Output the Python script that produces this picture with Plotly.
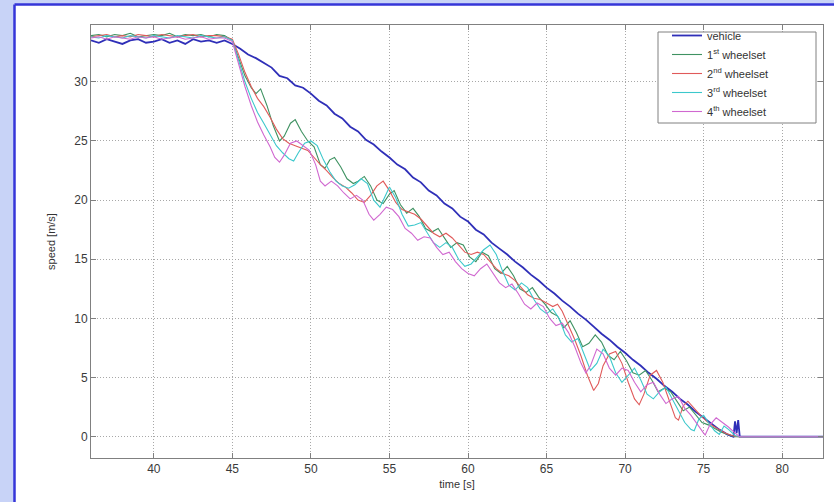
import plotly.graph_objects as go

# ---------------- data ----------------
t_vehicle = [36.0, 36.5, 37.0, 37.5, 38.0, 38.5, 39.0, 39.5, 40.0, 40.5, 41.0, 41.5, 42.0, 42.5, 43.0, 43.5, 44.0, 44.5,
             45.0, 45.5, 46.0, 46.5, 47.0, 47.5, 48.0, 48.5, 49.0, 49.5,
             50.0, 50.5, 51.0, 51.5, 52.0, 52.5, 53.0, 53.5, 54.0, 54.5,
             55.0, 55.5, 56.0, 56.5, 57.0, 57.5, 58.0, 58.5, 59.0, 59.5,
             60.0, 60.5, 61.0, 61.5, 62.0, 62.5, 63.0, 63.5, 64.0, 64.5,
             65.0, 65.5, 66.0, 66.5, 67.0, 67.5, 68.0, 68.5, 69.0, 69.5,
             70.0, 70.5, 71.0, 71.5, 72.0, 72.5, 73.0, 73.5, 74.0, 74.5,
             75.0, 75.5, 76.0, 76.5, 76.9, 77.0, 77.1, 77.2, 77.3, 78.0, 80.0, 82.6]
v_vehicle = [33.5, 33.3, 33.6, 33.4, 33.2, 33.5, 33.6, 33.3, 33.4, 33.6, 33.3, 33.5, 33.2, 33.6, 33.4, 33.5, 33.3, 33.5,
             33.2, 32.8, 32.3, 32.0, 31.6, 31.2, 30.5, 30.3, 29.7, 29.5,
             29.0, 28.4, 28.0, 27.3, 26.9, 26.2, 25.8, 25.1, 24.7, 24.1,
             23.6, 23.0, 22.6, 21.9, 21.5, 20.8, 20.4, 19.7, 19.3, 18.6,
             18.2, 17.5, 17.1, 16.4, 15.9, 15.4, 14.8, 14.3, 13.7, 13.2,
             12.6, 12.1, 11.5, 11.0, 10.4, 9.9, 9.3, 8.7, 8.2, 7.6,
             7.1, 6.5, 6.0, 5.4, 4.9, 4.3, 3.8, 3.2, 2.7, 2.1,
             1.6, 1.1, 0.6, 0.2, 0.0, 1.3, 0.3, 1.4, 0.0, 0.0, 0.0, 0.0]

t_plateau = [36.0, 36.5, 37.0, 37.5, 38.0, 38.5, 39.0, 39.5, 40.0, 40.5, 41.0, 41.5, 42.0, 42.5, 43.0, 43.5, 44.0, 44.5]

t_ws1 = t_plateau + [45.0, 45.4, 45.8, 46.2, 46.5, 46.8, 47.2, 47.6, 48.0, 48.3, 48.7, 49.0, 49.4, 49.8,
                     50.2, 50.6, 50.9, 51.2, 51.5, 51.9, 52.3, 52.7, 53.0, 53.4, 53.8, 54.2, 54.6, 55.0,
                     55.3, 55.7, 56.1, 56.5, 56.9, 57.3, 57.7, 58.1, 58.5, 58.9, 59.3, 59.7, 60.1, 60.5,
                     60.9, 61.3, 61.7, 62.1, 62.5, 62.9, 63.3, 63.7, 64.1, 64.5, 64.9, 65.3, 65.7, 66.1,
                     66.5, 66.9, 67.3, 67.7, 68.1, 68.5, 68.9, 69.3, 69.7, 70.1, 70.5, 70.9, 71.3, 71.7,
                     72.1, 72.5, 72.9, 73.3, 73.7, 74.1, 74.5, 74.9, 75.3, 75.7, 76.1, 76.5, 77.0, 80.0, 82.6]
v_ws1 = [33.9, 34.0, 33.8, 34.0, 33.9, 34.1, 33.8, 33.9, 34.0, 33.9, 34.1, 33.8, 34.0, 33.9, 34.0, 33.8, 34.0, 33.9] + \
        [33.5, 32.0, 30.5, 29.5, 29.0, 29.4, 28.0, 26.3, 25.0, 25.4, 26.5, 26.8, 25.8, 25.0,
         24.5, 23.0, 22.7, 23.4, 23.6, 22.8, 21.8, 21.4, 21.6, 22.0, 21.2, 20.0, 19.7, 20.5,
         20.8, 19.6, 18.9, 19.3, 18.6, 17.6, 17.3, 17.6, 16.8, 16.0, 16.4, 16.2, 15.2, 14.8,
         15.6, 15.3, 14.2, 13.8, 14.4, 13.6, 12.5, 12.2, 12.6, 11.8, 11.2, 10.5, 10.2, 9.2,
         9.8, 8.8, 7.6, 7.9, 8.6, 8.0, 6.9, 6.5, 7.2, 6.4, 5.4, 5.2, 5.6, 4.8,
         3.8, 4.1, 3.8, 3.0, 2.2, 2.5, 1.8, 1.2, 1.0, 0.7, 0.4, 0.2, 0.0, 0.0, 0.0]

t_ws2 = t_plateau + [45.0, 45.4, 45.8, 46.2, 46.6, 47.0, 47.4, 47.8, 48.2, 48.6, 49.0, 49.4, 49.8,
                     50.2, 50.6, 51.0, 51.4, 51.8, 52.2, 52.6, 53.0, 53.4, 53.8, 54.2, 54.6, 55.0,
                     55.4, 55.8, 56.2, 56.6, 57.0, 57.4, 57.8, 58.2, 58.6, 59.0, 59.4, 59.8, 60.2,
                     60.6, 61.0, 61.4, 61.8, 62.2, 62.6, 63.0, 63.4, 63.8, 64.2, 64.6, 65.0, 65.4,
                     65.7, 66.0, 66.4, 66.8, 67.2, 67.6, 68.0, 68.3, 68.6, 69.0, 69.4, 69.8, 70.2,
                     70.6, 70.9, 71.2, 71.6, 72.0, 72.4, 72.8, 73.2, 73.4, 73.7, 74.0, 74.4, 74.8,
                     75.2, 75.6, 76.0, 76.4, 76.8, 77.2, 80.0, 82.6]
v_ws2 = [33.8, 33.9, 34.0, 33.8, 33.9, 33.8, 34.0, 33.9, 33.8, 34.0, 33.9, 33.8, 33.9, 34.0, 33.8, 33.9, 33.9, 33.8] + \
        [33.6, 32.3, 30.8, 29.6, 28.6, 27.9, 27.0, 26.0, 25.2, 24.8, 24.6, 24.4, 24.2,
         23.6, 23.0, 22.5, 21.9, 21.4, 21.1, 20.6, 20.0, 19.8, 20.4, 21.2, 21.6, 20.8,
         19.8, 19.2, 19.0, 18.8, 18.4, 17.8, 17.2, 16.9, 17.2, 16.8, 16.2, 15.6, 15.4,
         15.6, 15.4, 14.8, 14.2, 13.8, 13.6, 13.2, 12.6, 12.0, 11.7, 11.6, 11.3, 11.0,
         11.2, 10.6, 9.4, 8.2, 6.8, 5.2, 3.9, 4.5, 6.0, 7.0, 7.2, 6.2, 4.6,
         3.2, 2.7, 3.6, 5.2, 5.6, 4.6, 3.0, 1.6, 1.4, 2.6, 3.0, 2.4, 1.8,
         1.3, 0.9, 0.6, 0.3, 0.1, 0.0, 0.0, 0.0]

t_ws3 = t_plateau + [45.0, 45.4, 45.8, 46.2, 46.6, 47.0, 47.4, 47.8, 48.2, 48.6, 48.9, 49.2, 49.6,
                     50.0, 50.4, 50.8, 51.2, 51.6, 52.0, 52.4, 52.8, 53.2, 53.6, 54.0, 54.4, 54.8,
                     55.0, 55.4, 55.8, 56.2, 56.6, 57.0, 57.4, 57.8, 58.2, 58.6, 59.0, 59.4, 59.8,
                     60.2, 60.6, 61.0, 61.4, 61.8, 62.2, 62.6, 63.0, 63.4, 63.8, 64.2, 64.6, 65.0,
                     65.4, 65.8, 66.2, 66.6, 67.0, 67.4, 67.8, 68.2, 68.6, 69.0, 69.4, 69.8, 70.2,
                     70.6, 71.0, 71.4, 71.8, 72.2, 72.6, 73.0, 73.4, 73.8, 74.2, 74.4, 74.7, 75.0,
                     75.3, 75.7, 76.0, 76.3, 76.6, 77.0, 77.3, 80.0, 82.6]
v_ws3 = [33.8, 33.7, 33.9, 33.8, 33.7, 33.9, 33.8, 33.7, 33.9, 33.8, 33.7, 33.9, 33.8, 33.7, 33.9, 33.8, 33.7, 33.8] + \
        [33.5, 31.8, 30.0, 28.6, 27.4, 26.5, 25.6, 24.6, 24.0, 23.5, 23.3, 24.0, 24.8,
         25.0, 24.6, 23.4, 22.4, 21.6, 21.2, 21.0, 21.3, 21.8, 21.4, 20.0, 19.4, 20.6,
         21.1, 20.2, 18.8, 17.8, 17.9, 18.1, 17.2, 16.4, 16.0, 16.4, 16.0, 15.0, 14.4,
         14.6, 15.2, 15.8, 16.2, 15.4, 14.0, 12.8, 12.4, 13.0, 12.6, 11.6, 10.8, 10.4,
         10.8, 10.0, 8.6, 8.0, 8.3, 7.0, 5.6, 6.2, 7.4, 6.8, 5.4, 4.6, 5.2,
         5.8, 4.8, 3.6, 3.2, 3.8, 4.2, 3.2, 2.2, 1.2, 0.6, 0.5, 1.5, 1.8,
         1.2, 0.5, 0.2, 0.9, 0.6, 0.1, 0.0, 0.0, 0.0]

t_ws4 = t_plateau + [45.0, 45.4, 45.8, 46.2, 46.6, 47.0, 47.4, 47.7, 48.0, 48.3, 48.7, 49.1, 49.5, 49.9,
                     50.3, 50.6, 50.9, 51.3, 51.7, 52.1, 52.5, 52.9, 53.3, 53.7, 54.0, 54.4, 54.8,
                     55.2, 55.6, 56.0, 56.4, 56.8, 57.2, 57.6, 58.0, 58.4, 58.8, 59.2, 59.6, 60.0,
                     60.4, 60.8, 61.2, 61.6, 62.0, 62.4, 62.8, 63.2, 63.6, 64.0, 64.4, 64.8, 65.2,
                     65.6, 66.0, 66.4, 66.8, 67.2, 67.5, 67.8, 68.2, 68.6, 69.0, 69.4, 69.8, 70.2,
                     70.6, 71.0, 71.4, 71.8, 72.2, 72.6, 73.0, 73.4, 73.8, 74.2, 74.6, 75.0, 75.1,
                     75.4, 75.8, 76.2, 76.6, 77.0, 77.3, 80.0, 82.6]
v_ws4 = [33.7, 33.8, 33.6, 33.8, 33.7, 33.6, 33.8, 33.7, 33.8, 33.6, 33.7, 33.8, 33.6, 33.7, 33.8, 33.6, 33.7, 33.7] + \
        [33.4, 31.5, 29.6, 28.0, 26.6, 25.5, 24.5, 23.6, 23.2, 23.8, 24.8, 25.0, 24.6, 24.2,
         23.0, 21.6, 21.2, 21.6, 21.2, 20.6, 20.1, 20.4, 20.0, 18.8, 18.3, 18.8, 19.4,
         19.2, 18.6, 17.6, 17.2, 16.6, 16.9, 16.8, 16.0, 15.4, 15.6, 14.8, 14.2, 13.8,
         13.6, 14.2, 14.6, 13.8, 13.0, 12.6, 12.9, 12.1, 11.2, 10.8, 11.3, 11.0, 10.0,
         9.4, 9.6, 8.8, 7.6, 6.2, 5.4, 6.0, 7.4, 7.0, 5.8, 5.2, 5.8, 5.6,
         4.6, 3.8, 4.4, 4.6, 3.6, 2.8, 3.2, 3.4, 2.4, 1.8, 1.0, 0.3, 0.15,
         1.0, 1.6, 1.2, 0.8, 0.3, 0.0, 0.0, 0.0]

series_names = ["vehicle", "1<sup>st</sup> wheelset", "2<sup>nd</sup> wheelset",
                "3<sup>rd</sup> wheelset", "4<sup>th</sup> wheelset"]
x_ticks = [40, 45, 50, 55, 60, 65, 70, 75, 80]
y_ticks = [0, 5, 10, 15, 20, 25, 30]

# ---------------- figure ----------------
colors = ["#2f2fb8", "#3f9262", "#e05a5a", "#3cc8cc", "#d068d0"]
widths = [1.8, 1.1, 1.1, 1.1, 1.1]
xs = [t_vehicle, t_ws1, t_ws2, t_ws3, t_ws4]
ys = [v_vehicle, v_ws1, v_ws2, v_ws3, v_ws4]

fig = go.Figure()
for name, x, y, c, w in zip(series_names, xs, ys, colors, widths):
    fig.add_trace(go.Scatter(x=x, y=y, mode="lines", name=name,
                             line=dict(color=c, width=w)))

W, H = 834, 502
L, R, T, B = 91, 11, 25, 44
pw, ph = W - L - R, H - T - B


def px(xp):
    return (xp - L) / pw


def py(yp):
    return (H - B - yp) / ph


axis_common = dict(showline=True, linecolor="#808080", linewidth=1, mirror="ticks",
                   ticks="inside", ticklen=5, tickcolor="#808080",
                   showgrid=True, gridcolor="#a8a8a8", griddash="1px,2px", gridwidth=1,
                   zeroline=False,
                   tickfont=dict(family="Liberation Sans, Arial", size=12, color="#3a3a3a"),
                   title_font=dict(family="Liberation Sans, Arial", size=11, color="#333"))

fig.update_xaxes(range=[36, 82.6], tickvals=x_ticks, title_text="time [s]",
                 title_standoff=4, **axis_common)
fig.update_yaxes(range=[-1.8, 34.8], tickvals=y_ticks, title_text="speed [m/s]",
                 title_standoff=16, **axis_common)

shapes = [
    dict(type="rect", xref="paper", yref="paper", x0=px(0), x1=px(14), y0=py(H), y1=py(0),
         fillcolor="#c8d3f7", line_width=0, layer="below"),
    dict(type="rect", xref="paper", yref="paper", x0=px(0), x1=px(W), y0=py(4), y1=py(0),
         fillcolor="#c8d3f7", line_width=0, layer="below"),
    dict(type="line", xref="paper", yref="paper", x0=px(14.5), x1=px(14.5), y0=py(H), y1=py(4.5),
         line=dict(color="#3535d8", width=2.5)),
    dict(type="line", xref="paper", yref="paper", x0=px(14.5), x1=px(W), y0=py(4.5), y1=py(4.5),
         line=dict(color="#3535d8", width=2.5)),
    # legend box
    dict(type="rect", xref="paper", yref="paper", x0=px(658), x1=px(816), y0=py(123), y1=py(32),
         fillcolor="white", line=dict(color="#808080", width=1), layer="above"),
]

fig.update_layout(
    width=W, height=H,
    margin=dict(l=L, r=R, t=T, b=B, autoexpand=False),
    paper_bgcolor="white", plot_bgcolor="white",
    shapes=shapes,
    showlegend=True,
    legend=dict(x=px(667), y=py(21), xanchor="left", yanchor="top",
                bgcolor="rgba(0,0,0,0)", borderwidth=0,
                font=dict(family="Liberation Sans, Arial", size=11, color="#333"),
                tracegroupgap=0, itemwidth=30),
    font=dict(family="Liberation Sans, Arial"),
)

fig.write_html("out.html")
